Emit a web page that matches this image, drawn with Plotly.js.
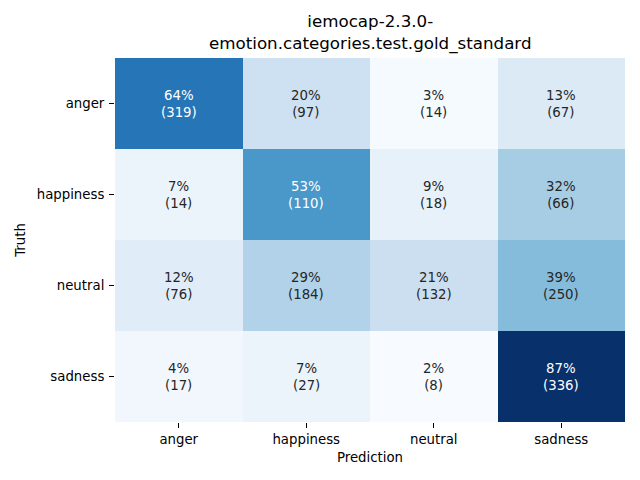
<!DOCTYPE html>
<html>
<head>
<meta charset="utf-8">
<script src="https://cdn.plot.ly/plotly-3.0.1.min.js"></script>
<style>html,body{margin:0;padding:0;background:#fff;}#chart{width:640px;height:480px;}</style>
</head>
<body>
<div id="chart"></div>
<script>
const categories = ["anger", "happiness", "neutral", "sadness"];
const truthLabels = ["anger", "happiness", "neutral", "sadness"];
const counts = [
  [319, 97, 14, 67],
  [14, 110, 18, 66],
  [76, 184, 132, 250],
  [17, 27, 8, 336]
];
const titleText = "iemocap-2.3.0-<br>emotion.categories.test.gold_standard";

const pct = counts.map(r => { const s = r.reduce((a, b) => a + b, 0); return r.map(v => v / s * 100); });
const flat = pct.flat();
const zmin = Math.min(...flat), zmax = Math.max(...flat);

const blues = ["#f7fbff","#deebf7","#c6dbef","#9ecae1","#6baed6","#4292c6","#2171b5","#08519c","#08306b"];
const colorscale = blues.map((c, i) => [i / (blues.length - 1), c]);

function hexToRgb(h){return [parseInt(h.slice(1,3),16),parseInt(h.slice(3,5),16),parseInt(h.slice(5,7),16)];}
function colorAt(t){
  const n = blues.length - 1; const p = Math.max(0, Math.min(1, t)) * n; const i = Math.min(Math.floor(p), n - 1); const f = p - i;
  const a = hexToRgb(blues[i]), b = hexToRgb(blues[i+1]);
  return a.map((v, k) => v + (b[k] - v) * f);
}
function lum(rgb){
  const c = rgb.map(v => { v /= 255; return v <= 0.03928 ? v / 12.92 : Math.pow((v + 0.055) / 1.055, 2.4); });
  return 0.2126 * c[0] + 0.7152 * c[1] + 0.0722 * c[2];
}

const annotations = [];
pct.forEach((row, i) => row.forEach((v, j) => {
  const l = lum(colorAt((v - zmin) / (zmax - zmin)));
  annotations.push({
    x: categories[j], y: truthLabels[i], xref: "x", yref: "y",
    text: Math.round(v) + "%<br>(" + counts[i][j] + ")",
    showarrow: false,
    font: {family: "DejaVu Sans", size: 13.3, color: l > 0.408 ? "#262626" : "#ffffff"}
  });
}));
annotations.push({
  xref: "paper", yref: "paper", x: 0.5, y: 1, xanchor: "center", yanchor: "bottom", yshift: 2,
  text: titleText, showarrow: false, align: "center",
  font: {family: "DejaVu Sans", size: 16.7, color: "#000"}
});

const data = [{
  type: "heatmap",
  x: categories, y: truthLabels, z: pct,
  colorscale: colorscale, zmin: zmin, zmax: zmax,
  showscale: false, xgap: 0, ygap: 0, hoverinfo: "none"
}];

const layout = {
  width: 640, height: 480,
  margin: {l: 115, r: 15, t: 58, b: 58},
  paper_bgcolor: "#fff", plot_bgcolor: "#fff",
  font: {family: "DejaVu Sans", color: "#000", size: 13.3},
  xaxis: {
    type: "category", showgrid: false, zeroline: false, showline: false,
    ticks: "outside", ticklen: 5, tickwidth: 1, tickcolor: "#000",
    tickfont: {size: 13.3, color: "#000"},
    title: {text: "Prediction", font: {size: 13.3, color: "#000"}, standoff: 6}
  },
  yaxis: {
    type: "category", autorange: "reversed", showgrid: false, zeroline: false, showline: false,
    ticks: "outside", ticklen: 5, tickwidth: 1, tickcolor: "#000", ticklabelstandoff: 2,
    tickfont: {size: 13.3, color: "#000"},
    title: {text: "Truth", font: {size: 13.3, color: "#000"}, standoff: 8}
  },
  annotations: annotations
};

Plotly.newPlot("chart", data, layout, {displayModeBar: false, staticPlot: true});
</script>
</body>
</html>
